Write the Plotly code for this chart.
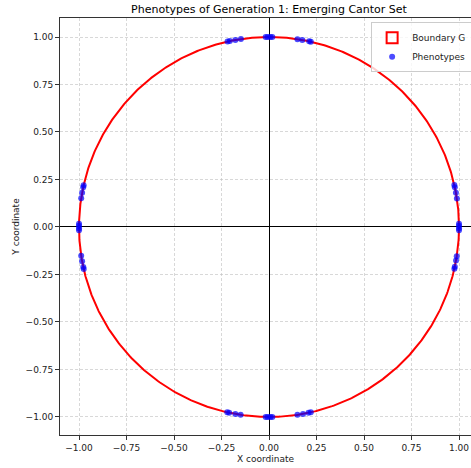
import numpy as np
import plotly.graph_objects as go

# Phenotype angles (degrees), clustered around the four cardinal directions
angles_deg = [
    # around 0 deg
    -12.7, -12.1, -10.2, -8.9, -1.0, -0.4, 0.4, 1.0, 8.6, 10.4, 12.1, 12.8,
    # around 90 deg
    77.3, 77.8, 79.9, 81.4, 89.0, 89.6, 90.4, 91.0, 98.5, 100.2, 101.9, 102.6,
    # around 180 deg
    167.3, 167.9, 169.6, 171.3, 179.0, 179.6, 180.4, 181.0, 188.7, 190.4, 192.2, 192.8,
    # around 270 deg
    257.3, 257.9, 259.8, 261.4, 269.0, 269.6, 270.4, 271.0, 278.6, 280.3, 282.0, 282.7,
]
boundary_radius = 1.0

title_text = "Phenotypes of Generation 1: Emerging Cantor Set"
tick_vals = [-1.0, -0.75, -0.5, -0.25, 0.0, 0.25, 0.5, 0.75, 1.0]
tick_text = ["\u22121.00", "\u22120.75", "\u22120.50", "\u22120.25", "0.00", "0.25", "0.50", "0.75", "1.00"]

theta = np.linspace(0, 2 * np.pi, 720)
bx = boundary_radius * np.cos(theta)
by = boundary_radius * np.sin(theta)

a = np.radians(angles_deg)
px = np.cos(a)
py = np.sin(a)

fig = go.Figure()
fig.add_trace(go.Scatter(
    x=bx, y=by, mode="lines", name="Boundary G", showlegend=False,
    line=dict(color="red", width=2), hoverinfo="skip",
))
# legend-only entry drawn as an outlined box like the reference's patch
fig.add_trace(go.Scatter(
    x=[None], y=[None], mode="markers", name="Boundary G",
    marker=dict(symbol="square-open", color="red", size=11, line=dict(width=2, color="red")),
))
fig.add_trace(go.Scatter(
    x=px, y=py, mode="markers", name="Phenotypes",
    marker=dict(color="blue", size=6, opacity=0.7, line=dict(width=0)),
))

font = "DejaVu Sans, sans-serif"
axis_common = dict(
    tickvals=tick_vals, ticktext=tick_text,
    showgrid=True, gridcolor="rgba(190,190,190,0.6)", griddash="3px,2px", gridwidth=1,
    zeroline=True, zerolinecolor="black", zerolinewidth=1,
    ticks="outside", ticklen=4, tickcolor="#333", tickwidth=1,
    showline=True, linecolor="#333", linewidth=1,
    tickfont=dict(family=font, size=9, color="#222"),
)

fig.update_layout(
    width=471, height=468,
    margin=dict(l=60, r=0, t=18, b=33, autoexpand=False),
    paper_bgcolor="white", plot_bgcolor="white",
    title=dict(text=title_text, x=(269) / 471, xanchor="center", y=1 - 9 / 468, yanchor="middle",
               font=dict(family=font, size=11, color="black")),
    xaxis=dict(range=[-1.1, 1.063], mirror=True,
               title=dict(text="X coordinate", font=dict(family=font, size=9, color="#222"), standoff=3),
               **axis_common),
    yaxis=dict(range=[-1.095, 1.1], mirror=False,
               title=dict(text="Y coordinate", font=dict(family=font, size=9, color="#222"), standoff=4),
               **axis_common),
    legend=dict(x=0.757, y=0.99, xanchor="left", yanchor="top",
                bgcolor="rgba(255,255,255,0.8)", bordercolor="#ccc", borderwidth=1,
                font=dict(family=font, size=9, color="#222"), tracegroupgap=0,
                itemwidth=30),
    showlegend=True,
)

fig.write_html("out.html")
